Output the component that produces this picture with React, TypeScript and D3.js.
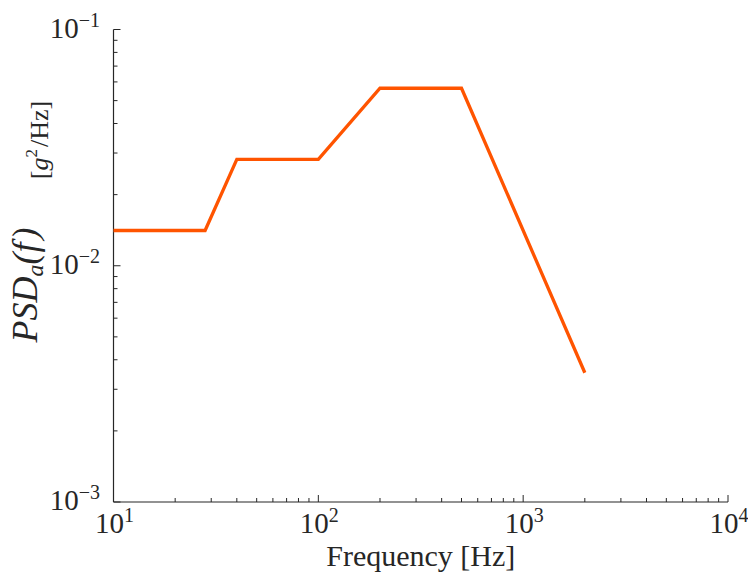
import React from "react";
import * as d3 from "d3";

const freqs = [10, 28, 40, 100, 200, 500, 2000];
const psd = [0.0141, 0.0141, 0.0282, 0.0282, 0.0564, 0.0564, 0.003525];
const xTickExps = [1, 2, 3, 4];
const yTickExps = [-3, -2, -1];

const W = 748;
const H = 575;
const L = 113.5, R = 728, T = 29.5, B = 502;
const FONT = "Liberation Serif, Times New Roman, Times, DejaVu Serif";
const INK = "#262626";

export default function App() {
  const x = d3.scaleLog().domain([10, 1e4]).range([L, R]);
  const y = d3.scaleLog().domain([1e-3, 1e-1]).range([B, T]);
  const line = d3
    .line<number>()
    .x((_, i) => x(freqs[i]))
    .y((d) => y(d));

  const xt = x.ticks();
  const yt = y.ticks();
  const isMajor = (v: number) => Math.abs(Math.log10(v) - Math.round(Math.log10(v))) < 1e-6;

  return (
    <svg width={W} height={H} style={{ position: "absolute", left: 0, top: 0, background: "#fff", fontFamily: FONT }}>
      <rect x={0} y={0} width={W} height={H} fill="#fff" />
      {xt.map((v, i) => (
        <line key={"xt" + i} x1={x(v)} x2={x(v)} y1={B} y2={B - (isMajor(v) ? 7 : 4)} stroke={INK} strokeWidth={1} />
      ))}
      {yt.map((v, i) => (
        <line key={"yt" + i} x1={L} x2={L + (isMajor(v) ? 7 : 4)} y1={y(v)} y2={y(v)} stroke={INK} strokeWidth={1} />
      ))}
      <line x1={L} x2={L} y1={T} y2={B} stroke={INK} strokeWidth={1.2} />
      <line x1={L} x2={R} y1={B} y2={B} stroke={INK} strokeWidth={1.2} />
      <path d={line(psd) || ""} fill="none" stroke="#FF5400" strokeWidth={3.3} strokeLinejoin="miter" />
      {xTickExps.map((e) => (
        <text key={"xl" + e} x={x(Math.pow(10, e)) + 1} y={533} textAnchor="middle" fontSize={29} fill={INK}>
          <tspan>10</tspan>
          <tspan fontSize={20} dy={-11}>{String(e)}</tspan>
        </text>
      ))}
      {yTickExps.map((e) => (
        <text key={"yl" + e} x={100} y={y(Math.pow(10, e)) + 8} textAnchor="end" fontSize={29} fill={INK}>
          <tspan>10</tspan>
          <tspan fontSize={20} dy={-11}>{"\u2212" + String(-e)}</tspan>
        </text>
      ))}
      <text x={(L + R) / 2} y={566} textAnchor="middle" fontSize={30} fill={INK}>
        Frequency [Hz]
      </text>
      <g transform="translate(37,285) rotate(-90)">
        <text x={0} y={0} textAnchor="middle" fontSize={36} fontStyle="italic" fill={INK}>
          <tspan>PSD</tspan>
          <tspan fontSize={24} dy={6}>a</tspan>
          <tspan dy={-6}>(f</tspan>
          <tspan dx={3}>)</tspan>
        </text>
      </g>
      <g transform="translate(48,140) rotate(-90)">
        <text x={0} y={0} textAnchor="middle" fontSize={26} fill={INK}>
          <tspan>[</tspan>
          <tspan fontStyle="italic">g</tspan>
          <tspan fontSize={17} dy={-11}>2</tspan>
          <tspan dy={11} dx={2}>/Hz]</tspan>
        </text>
      </g>
    </svg>
  );
}
